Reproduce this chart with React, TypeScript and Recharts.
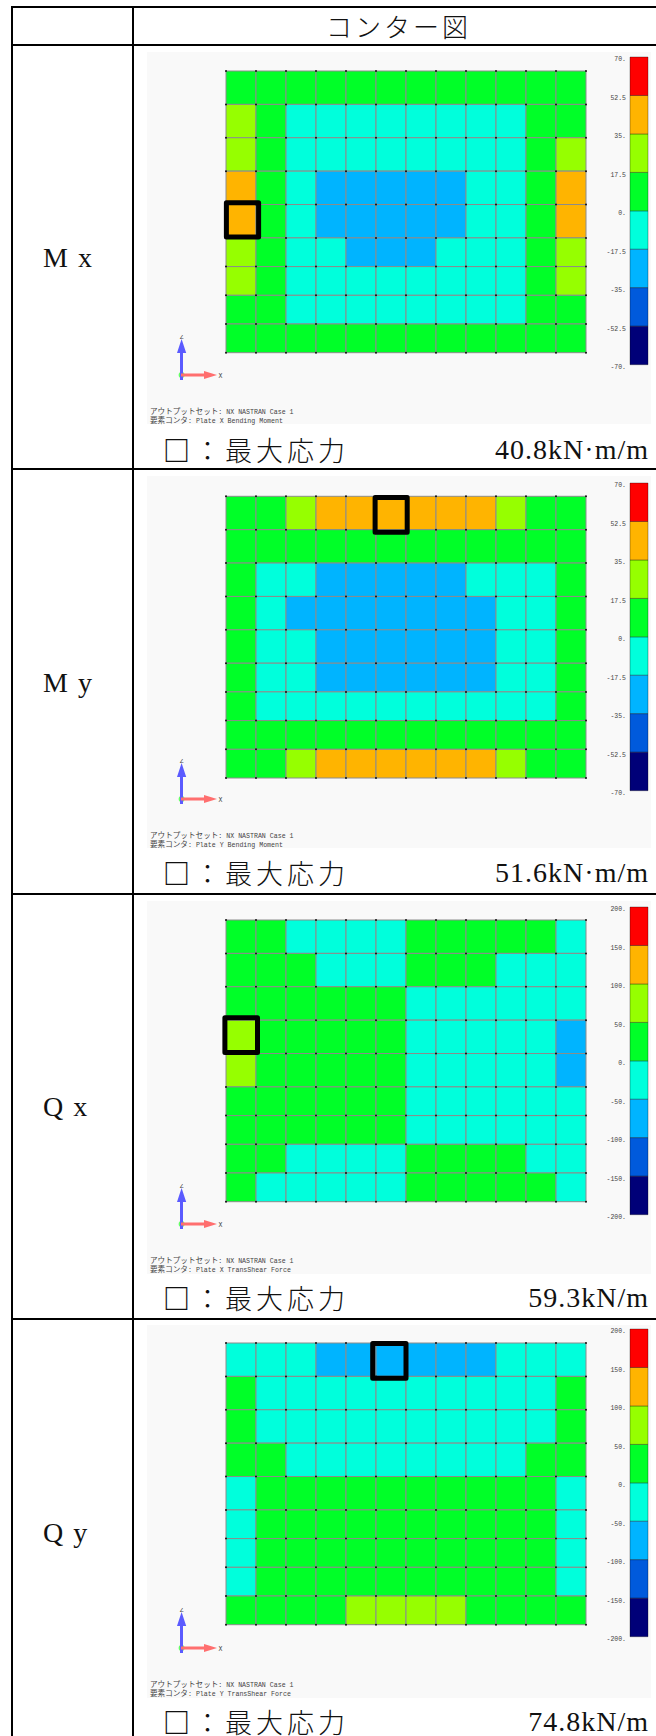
import { Bar, BarChart, Cell, ComposedChart, ReferenceArea, Scatter, XAxis, YAxis } from "recharts";

// contour band index per cell: 2 sky, 3 cyan, 4 green, 5 lime, 6 orange
const mxCells = [
  [4, 4, 4, 4, 4, 4, 4, 4, 4, 4, 4, 4],
  [5, 4, 3, 3, 3, 3, 3, 3, 3, 3, 4, 4],
  [5, 4, 3, 3, 3, 3, 3, 3, 3, 3, 4, 5],
  [6, 4, 3, 2, 2, 2, 2, 2, 3, 3, 4, 6],
  [6, 4, 3, 2, 2, 2, 2, 2, 3, 3, 4, 6],
  [5, 4, 3, 3, 2, 2, 2, 3, 3, 3, 4, 5],
  [5, 4, 3, 3, 3, 3, 3, 3, 3, 3, 4, 5],
  [4, 4, 3, 3, 3, 3, 3, 3, 3, 3, 4, 4],
  [4, 4, 4, 4, 4, 4, 4, 4, 4, 4, 4, 4],
];
const myCells = [
  [4, 4, 5, 6, 6, 6, 6, 6, 6, 5, 4, 4],
  [4, 4, 4, 4, 4, 4, 4, 4, 4, 4, 4, 4],
  [4, 3, 3, 2, 2, 2, 2, 2, 3, 3, 3, 4],
  [4, 3, 2, 2, 2, 2, 2, 2, 2, 3, 3, 4],
  [4, 3, 3, 2, 2, 2, 2, 2, 2, 3, 3, 4],
  [4, 3, 3, 2, 2, 2, 2, 2, 2, 3, 3, 4],
  [4, 3, 3, 3, 3, 3, 3, 3, 3, 3, 3, 4],
  [4, 4, 4, 4, 4, 4, 4, 4, 4, 4, 4, 4],
  [4, 4, 5, 6, 6, 6, 6, 6, 6, 5, 4, 4],
];
const qxCells = [
  [4, 4, 3, 3, 3, 3, 4, 4, 4, 4, 4, 3],
  [4, 4, 4, 3, 3, 3, 4, 4, 4, 3, 3, 3],
  [4, 4, 4, 4, 4, 4, 3, 3, 3, 3, 3, 3],
  [5, 4, 4, 4, 4, 4, 3, 3, 3, 3, 3, 2],
  [5, 4, 4, 4, 4, 4, 3, 3, 3, 3, 3, 2],
  [4, 4, 4, 4, 4, 4, 3, 3, 3, 3, 3, 3],
  [4, 4, 4, 4, 4, 4, 3, 3, 3, 3, 3, 3],
  [4, 4, 3, 3, 3, 3, 4, 4, 4, 4, 3, 3],
  [4, 3, 3, 3, 3, 3, 4, 4, 4, 4, 4, 3],
];
const qyCells = [
  [3, 3, 3, 2, 2, 2, 2, 2, 2, 3, 3, 3],
  [4, 3, 3, 3, 3, 3, 3, 3, 3, 3, 3, 4],
  [4, 3, 3, 3, 3, 3, 3, 3, 3, 3, 3, 4],
  [4, 4, 3, 3, 3, 3, 3, 3, 3, 3, 4, 4],
  [3, 4, 4, 4, 4, 4, 4, 4, 4, 4, 4, 3],
  [3, 4, 4, 4, 4, 4, 4, 4, 4, 4, 4, 3],
  [3, 4, 4, 4, 4, 4, 4, 4, 4, 4, 4, 3],
  [3, 4, 4, 4, 4, 4, 4, 4, 4, 4, 4, 3],
  [4, 4, 4, 4, 5, 5, 5, 5, 4, 4, 4, 4],
];

const bandColors = ["#000078", "#005adc", "#00b4ff", "#00ffdc", "#00ff28", "#96ff00", "#ffb400", "#ff0000"];
const momentTicks = [70, 52.5, 35, 17.5, 0, -17.5, -35, -52.5, -70];
const shearTicks = [200, 150, 100, 50, 0, -50, -100, -150, -200];

// plate mesh: 12 equal columns, 9 rows (the upper five are a bit taller)
const columns = ["1", "2", "3", "4", "5", "6", "7", "8", "9", "10", "11", "12"];
const rowHeights = [1.163, 1.163, 1.163, 1.163, 1.163, 1, 1, 1, 1];

const labels = ["M x", "M y", "Q x", "Q y"];
const results = ["Plate X Bending Moment", "Plate Y Bending Moment", "Plate X TransShear Force", "Plate Y TransShear Force"];
const maxStress = ["40.8kN·m/m", "51.6kN·m/m", "59.3kN/m", "74.8kN/m"];
const cells = [mxCells, myCells, qxCells, qyCells];
const ticks = [momentTicks, momentTicks, shearTicks, shearTicks];
// max stress box in mesh units: x1, x2, y1, y2
const maxBoxes = [
  [0.013, 1.087, 4.59, 5.78],
  [4.97, 6.04, 0.045, 1.25],
  [-0.037, 1.05, 3.41, 4.62],
  [4.89, 6.0, 0.017, 1.23],
];

const panelTops = [51.7, 475.7, 901, 1325];
const gridTops = [19, 20.3, 19, 18];
const legendTops = [5.3, 7, 5.7, 4.3];
const labelYs = [258, 683, 1106.7, 1532.7];
const footYs = [450, 873, 1298, 1721.5];
const hLines = [7, 45, 469, 894, 1319];

const meshTotal = rowHeights.reduce((a, b) => a + b, 0);
const rowEdges = rowHeights.reduce((acc, h) => [...acc, acc[acc.length - 1] + h], [0]);
const nodes = rowEdges.flatMap((y) => [...columns.map((_, i) => i), columns.length].map((x) => ({ x, y })));
const meshData = columns.map((col) => {
  const row: any = { col };
  rowHeights.forEach((h, i) => (row["r" + i] = h));
  return row;
});

const serif = '"Liberation Serif", serif';
const jp = '"Noto Sans CJK JP", sans-serif';
const mono = '"Liberation Mono", monospace';

function Mesh({ index }: any) {
  const box = maxBoxes[index];
  const top = gridTops[index];
  const margin = { top, left: 79, right: 64, bottom: 373 - top - 281.7 };
  const chartStyle: any = { position: "absolute", left: 0, top: 0 };
  return (
    <>
      <ComposedChart width={503} height={373} data={meshData} barCategoryGap={0} margin={margin} style={chartStyle}>
        <XAxis xAxisId="cols" dataKey="col" hide />
        <XAxis xAxisId="nodes" type="number" dataKey="x" domain={[0, 12]} hide />
        <YAxis yAxisId="mesh" type="number" domain={[0, meshTotal]} reversed hide />
        <YAxis yAxisId="nodeY" type="number" dataKey="y" domain={[0, meshTotal]} reversed hide />
        {rowHeights.map((_, r) => (
          <Bar key={r} xAxisId="cols" yAxisId="mesh" dataKey={"r" + r} stackId="mesh" stroke="#8c8c8c" strokeWidth={1} isAnimationActive={false}>
            {columns.map((c, i) => (
              <Cell key={c} fill={bandColors[cells[index][r][i]]} />
            ))}
          </Bar>
        ))}
        <Scatter
          xAxisId="nodes"
          yAxisId="nodeY"
          data={nodes}
          isAnimationActive={false}
          shape={(p: any) => <circle cx={p.cx} cy={p.cy} r={1} fill="#111" />}
        />
      </ComposedChart>
      {/* second chart on top, a ReferenceArea in the first one ends up under the bars */}
      <ComposedChart width={503} height={373} data={nodes} margin={margin} style={chartStyle}>
        <XAxis type="number" dataKey="x" domain={[0, 12]} hide />
        <YAxis type="number" dataKey="y" domain={[0, meshTotal]} reversed hide />
        <ReferenceArea
          x1={box[0]}
          x2={box[1]}
          y1={box[2]}
          y2={box[3]}
          fill="none"
          stroke="#000"
          strokeWidth={5}
          strokeLinejoin="round"
          ifOverflow="visible"
        />
      </ComposedChart>
    </>
  );
}

function ContourLegend({ index }: any) {
  const levels = ticks[index];
  const row: any = { name: "c" };
  // stacked outward from zero, so the sign of a band keeps it on its side of the scale
  bandColors.forEach((_, b) => (row["b" + b] = levels[7 - b] - levels[8 - b]));
  bandColors.forEach((_, b) => {
    if (b < 4) row["b" + b] = -row["b" + b];
  });
  const order = [3, 2, 1, 0, 4, 5, 6, 7];
  return (
    <BarChart
      width={80}
      height={330}
      data={[row]}
      stackOffset="sign"
      barCategoryGap={0}
      margin={{ top: 10, left: 0, right: 12, bottom: 12.3 }}
      style={{ position: "absolute", left: 433, top: legendTops[index] - 10 }}
    >
      <XAxis dataKey="name" hide />
      <YAxis
        type="number"
        width={50}
        domain={[levels[8], levels[0]]}
        ticks={levels}
        interval={0}
        axisLine={false}
        tickLine={false}
        tickSize={0}
        tickMargin={4}
        tick={{ fontFamily: mono, fontSize: 6.5, fill: "#444", dy: 2 }}
        tickFormatter={(v: number) => (Number.isInteger(v) ? v + "." : String(v))}
      />
      {order.map((b) => (
        <Bar key={b} dataKey={"b" + b} stackId="legend" fill={bandColors[b]} stroke="rgba(0,0,0,0.4)" strokeWidth={0.8} isAnimationActive={false} />
      ))}
    </BarChart>
  );
}

function Triad() {
  return (
    <svg width={90} height={60} style={{ position: "absolute", left: 20, top: 283 }}>
      <circle cx={14.6} cy={40} r={3} fill="#66ff66" />
      <polygon points="13,41 13,14 10,14 14.6,-0.0 19.2,14 16,14 16,41" transform="translate(0,4)" fill="#5b5bff" />
      <polygon points="14,38.5 37,38.5 37,36 50,40 37,44 37,41.5 14,41.5" fill="#ff6f6f" />
      <text x={14.6} y={4} textAnchor="middle" fontFamily={mono} fontSize={6.5} fill="#444">Z</text>
      <text x={51.5} y={42.5} fontFamily={mono} fontSize={6.5} fill="#444">X</text>
    </svg>
  );
}

function Panel({ index }: any) {
  return (
    <div style={{ position: "absolute", left: 147, top: panelTops[index], width: 503.5, height: 372.5, background: "#f9f9f9" }}>
      <Mesh index={index} />
      <ContourLegend index={index} />
      <Triad />
      <div style={{ position: "absolute", left: 3, top: 355, lineHeight: "7.4px", color: "#444", whiteSpace: "nowrap", fontFamily: mono, fontSize: 6.6 }}>
        <div>
          <span style={{ fontFamily: jp, fontSize: 7.6 }}>アウトプットセット</span>: NX NASTRAN Case 1
        </div>
        <div>
          <span style={{ fontFamily: jp, fontSize: 7.6 }}>要素コンタ</span>: {results[index]}
        </div>
      </div>
    </div>
  );
}

const text = (style: any): any => ({ position: "absolute", color: "#111", whiteSpace: "nowrap", lineHeight: 1, ...style });

export default function App() {
  return (
    <div style={{ position: "absolute", left: 0, top: 0, width: 656, height: 1736, overflow: "hidden", background: "#fff" }}>
      <div style={{ position: "absolute", left: 11, top: 6, width: 2, height: 1730, background: "#000" }} />
      <div style={{ position: "absolute", left: 132, top: 6, width: 2, height: 1730, background: "#000" }} />
      {hLines.map((y) => (
        <div key={y} style={{ position: "absolute", left: 11, top: y - 1, width: 645, height: 2, background: "#000" }} />
      ))}
      <div style={text({ left: 326, top: 13, fontFamily: jp, fontWeight: 300, fontSize: 26, letterSpacing: 3 })}>コンター図</div>
      {labels.map((label, i) => (
        <div key={label}>
          <div style={text({ left: 43, top: labelYs[i] - 14, fontFamily: serif, fontSize: 28, wordSpacing: 3 })}>{label}</div>
          <Panel index={i} />
          <div style={text({ left: 163, top: footYs[i] - 14, fontFamily: jp, fontWeight: 300, fontSize: 27, letterSpacing: 4 })}>
            <span style={{ fontWeight: 700 }}>□</span>：最大応力
          </div>
          <div style={text({ right: 7, top: footYs[i] - 14, fontFamily: serif, fontSize: 28, letterSpacing: 1 })}>{maxStress[i]}</div>
        </div>
      ))}
    </div>
  );
}
